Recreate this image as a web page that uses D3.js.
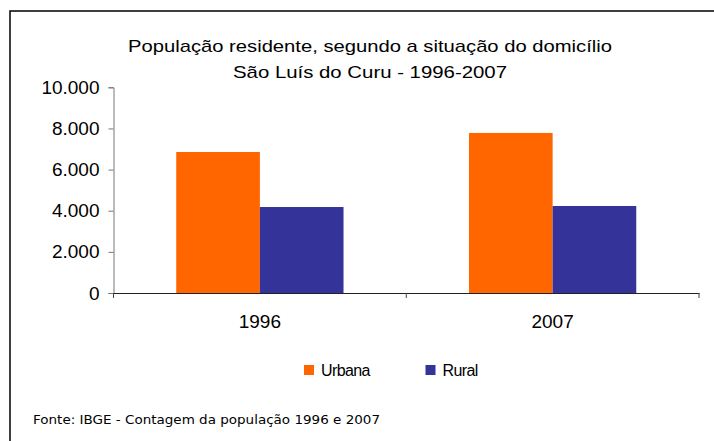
<!DOCTYPE html>
<html>
<head>
<meta charset="utf-8">
<script src="https://cdn.jsdelivr.net/npm/d3@7"></script>
<style>
	body { margin: 0; background: #fff; }
	text { font-family: "Liberation Sans", Arial, sans-serif; fill: #000; }
</style>
</head>
<body>
<svg width="714" height="441"></svg>
<script>
var anos = ["1996", "2007"];
var series = ["Urbana", "Rural"];
var urbana = [6855, 7780];
var rural = [4180, 4230];
var yTicks = [0, 2000, 4000, 6000, 8000, 10000];
var cores = ["#FF6600", "#333399"];

var svg = d3.select("svg");

// moldura
svg.append("path")
	.attr("d", "M10,441V11H714")
	.attr("fill", "none")
	.attr("stroke", "#000")
	.attr("stroke-width", 1.5);

// titulo
svg.append("text")
	.attr("x", 370).attr("y", 52)
	.attr("text-anchor", "middle")
	.style("font-size", "17px")
	.attr("textLength", 484).attr("lengthAdjust", "spacingAndGlyphs")
	.text("População residente, segundo a situação do domicílio");
svg.append("text")
	.attr("x", 370).attr("y", 78)
	.attr("text-anchor", "middle")
	.style("font-size", "17px")
	.attr("textLength", 274).attr("lengthAdjust", "spacingAndGlyphs")
	.text("São Luís do Curu - 1996-2007");

var x = d3.scaleBand().domain(anos).range([113.5, 699]);
var xs = d3.scaleBand().domain(series).range([0, x.bandwidth()]).paddingOuter(0.75);
var y = d3.scaleLinear().domain([0, 10000]).range([293, 87.3]);

var br = d3.formatLocale({decimal: ",", thousands: ".", grouping: [3], currency: ["R$", ""]});
var fmt = br.format(",d");

// barras
var dados = anos.map(function(a, i){
	return [{ano: a, s: "Urbana", v: urbana[i]}, {ano: a, s: "Rural", v: rural[i]}];
});
svg.append("g")
	.selectAll("g")
	.data(dados)
	.enter()
	.append("g")
	.attr("transform", function(d){ return "translate(" + x(d[0].ano) + ",0)"; })
	.selectAll("rect")
	.data(function(d){ return d; })
	.enter()
	.append("rect")
	.attr("x", function(d){ return xs(d.s); })
	.attr("width", xs.bandwidth())
	.attr("y", function(d){ return y(d.v); })
	.attr("height", function(d){ return y(0) - y(d.v); })
	.style("fill", function(d, i){ return cores[i]; });

// eixo y
var gy = svg.append("g")
	.attr("transform", "translate(113.5,0)")
	.call(d3.axisLeft(y).tickValues(yTicks).tickFormat(fmt).tickSize(5).tickPadding(9));
gy.select(".domain").attr("stroke", "#777");
gy.selectAll(".tick line").attr("stroke", "#777");
gy.selectAll("text").style("font-size", "19px").attr("fill", "#000");

// eixo x
var gx = svg.append("g")
	.attr("transform", "translate(0,293)")
	.call(d3.axisBottom(x).tickSize(0).tickPadding(22));
gx.select(".domain").attr("stroke", "#222").attr("stroke-width", 1.2);
gx.selectAll("text").style("font-size", "19px").attr("fill", "#000");
gx.selectAll(".limite")
	.data(anos.map(function(a){ return x(a); }).concat([x.range()[1]]))
	.enter()
	.append("line")
	.attr("class", "limite")
	.attr("x1", function(d){ return d; }).attr("x2", function(d){ return d; })
	.attr("y1", 0).attr("y2", 5)
	.attr("stroke", "#444");

// legenda
var leg = svg.append("g")
	.selectAll("g")
	.data(series)
	.enter()
	.append("g")
	.attr("transform", function(d, i){ return "translate(" + [304, 425.5][i] + ",365)"; });
leg.append("rect")
	.attr("width", 10).attr("height", 10)
	.style("fill", function(d, i){ return cores[i]; });
leg.append("text")
	.attr("x", 17).attr("y", 10.5)
	.style("font-size", "16px")
	.style("letter-spacing", "-0.6px")
	.text(function(d){ return d; });

// fonte
svg.append("text")
	.attr("x", 33).attr("y", 424)
	.style("font-family", "'DejaVu Sans', sans-serif")
	.style("font-size", "11.5px")
	.attr("textLength", 347).attr("lengthAdjust", "spacingAndGlyphs")
	.text("Fonte: IBGE - Contagem da população 1996 e 2007");
</script>
</body>
</html>
